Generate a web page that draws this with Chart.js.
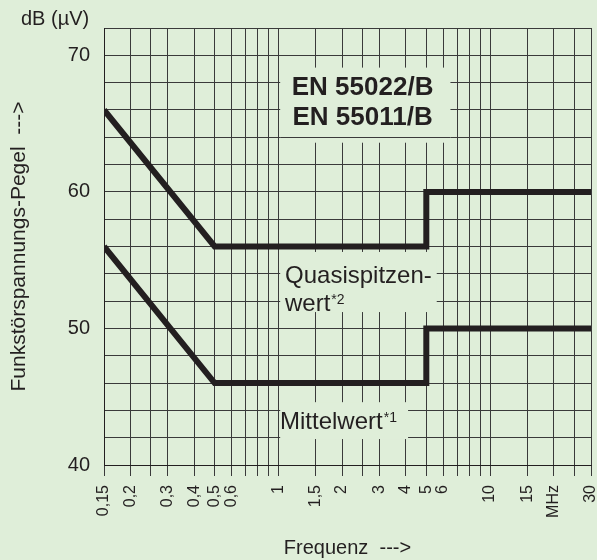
<!DOCTYPE html>
<html><head><meta charset="utf-8">
<script src="https://cdn.jsdelivr.net/npm/chart.js@4"></script>
<style>html,body{margin:0;padding:0;background:#dfeed9;}canvas{display:block;}</style>
</head><body>
<canvas id="c" width="597" height="560"></canvas>
<script>
// ---- data ----
const qpFrequency = [0.15, 0.5, 5, 5, 30];
const qpLevel = [66, 56, 56, 60, 60];
const avFrequency = [0.15, 0.5, 5, 5, 30];
const avLevel = [56, 46, 46, 50, 50];
const xTickValues = [0.15,0.2,0.25,0.3,0.4,0.5,0.6,0.7,0.8,0.9,1,1.5,2,2.5,3,4,5,6,7,8,9,10,15,20,25,30];
const xTickLabels = ['0,15','0,2','','0,3','0,4','0,5','0,6','','','','1','1,5','2','','3','4','5','6','','','','10','15','MHz','','30'];
const yMin = 40, yMax = 72, yStep = 2;
const yLabeledValues = [40, 50, 60, 70];

// ---- styles ----
const BG = '#dfeed9';
const INK = '#231f20';
const GRID = '#3a3a3a';
const FONT = '"Liberation Sans", Arial, Helvetica, sans-serif';

// text boxes that interrupt the grid (layout, in axis units)
const boxes = [
  {x0: 1.02, x1: 6.5, y0: 63.6, y1: 69.1, keepLines: [64]},
  {x0: 1.02, x1: 5.6, y0: 51.2, y1: 55.6, keepLines: []},
  {x0: 1.02, x1: 4.1, y0: 41.9, y1: 44.6, keepLines: []}
];

const annotPlugin = {
  id: 'annot',
  beforeDatasetsDraw(chart) {
    const {ctx, scales: {x, y}} = chart;
    ctx.save();
    boxes.forEach(b => {
      const l = x.getPixelForValue(b.x0), r = x.getPixelForValue(b.x1);
      const t = y.getPixelForValue(b.y1), bt = y.getPixelForValue(b.y0);
      ctx.fillStyle = BG;
      ctx.fillRect(l, t, r - l, bt - t);
      b.keepLines.forEach(v => {
        const py = Math.round(y.getPixelForValue(v) - 0.5) + 0.5;
        ctx.strokeStyle = GRID; ctx.lineWidth = 1;
        ctx.beginPath(); ctx.moveTo(l, py); ctx.lineTo(r, py); ctx.stroke();
      });
    });
    ctx.fillStyle = INK;
    ctx.textBaseline = 'alphabetic';
    ctx.textAlign = 'center';
    ctx.font = 'bold 26px ' + FONT;
    ctx.fillText('EN 55022/B', x.getPixelForValue(2.5), y.getPixelForValue(67.09));
    ctx.fillText('EN 55011/B', x.getPixelForValue(2.5), y.getPixelForValue(64.9));
    ctx.textAlign = 'left';
    ctx.font = '24px ' + FONT;
    const qx = x.getPixelForValue(1.075);
    ctx.fillText('Quasispitzen-', qx, y.getPixelForValue(53.31));
    const wy = y.getPixelForValue(51.3);
    ctx.fillText('wert', qx, wy);
    const ww = ctx.measureText('wert').width;
    const mx = x.getPixelForValue(1.018), my = y.getPixelForValue(42.61);
    ctx.fillText('Mittelwert', mx, my);
    const mw = ctx.measureText('Mittelwert').width;
    ctx.font = '14px ' + FONT;
    ctx.fillText('*2', qx + ww + 1, wy - 7);
    ctx.fillText('*1', mx + mw + 1, my - 7.5);
    ctx.restore();
  },
  afterDraw(chart) {
    const ctx = chart.ctx;
    ctx.save();
    ctx.fillStyle = INK;
    ctx.font = '20px ' + FONT;
    ctx.textAlign = 'left';
    ctx.textBaseline = 'alphabetic';
    ctx.fillText('dB (µV)', 21, 25);
    ctx.restore();
  }
};

const lineStyle = {
  borderColor: INK, borderWidth: 6, pointRadius: 0, pointHoverRadius: 0,
  fill: false, tension: 0, borderJoinStyle: 'miter', borderCapStyle: 'butt'
};

new Chart(document.getElementById('c'), {
  type: 'line',
  data: {
    datasets: [
      Object.assign({label: 'Quasispitzenwert', data: qpFrequency.map((f, i) => ({x: f, y: qpLevel[i]}))}, lineStyle),
      Object.assign({label: 'Mittelwert', data: avFrequency.map((f, i) => ({x: f, y: avLevel[i]}))}, lineStyle)
    ]
  },
  options: {
    responsive: false,
    animation: false,
    layout: {padding: {top: 28, right: 6, left: 0, bottom: 0}},
    plugins: {legend: {display: false}, tooltip: {enabled: false}},
    events: [],
    scales: {
      x: {
        type: 'logarithmic',
        min: 0.15, max: 30,
        afterBuildTicks(s) { s.ticks = xTickValues.map(v => ({value: v})); },
        afterFit(s) { s.height = 95; s.paddingLeft = 0; s.paddingRight = 0; },
        ticks: {
          autoSkip: false, minRotation: 90, maxRotation: 90, padding: 9,
          color: INK, font: {family: FONT, size: 16},
          callback: (v, i) => xTickLabels[i]
        },
        grid: {color: GRID, lineWidth: 1, tickLength: 11, tickColor: GRID, drawTicks: true},
        border: {display: true, color: INK, width: 1},
        title: {display: true, text: 'Frequenz  --->', color: INK, font: {family: FONT, size: 20}, padding: {top: 0, bottom: 0}}
      },
      y: {
        type: 'linear',
        min: yMin, max: yMax,
        afterFit(s) { s.width = 104; s.paddingTop = 0; s.paddingBottom = 0; },
        ticks: {
          stepSize: yStep, padding: 14, color: INK, font: {family: FONT, size: 20},
          callback: v => yLabeledValues.includes(v) ? String(v) : ''
        },
        grid: {color: GRID, lineWidth: 1, drawTicks: false},
        border: {display: true, color: INK, width: 1},
        title: {display: true, text: 'Funkstörspannungs-Pegel  --->', color: INK, font: {family: FONT, size: 21}, padding: {top: 7, bottom: 0}}
      }
    }
  },
  plugins: [annotPlugin]
});
</script>
</body></html>
